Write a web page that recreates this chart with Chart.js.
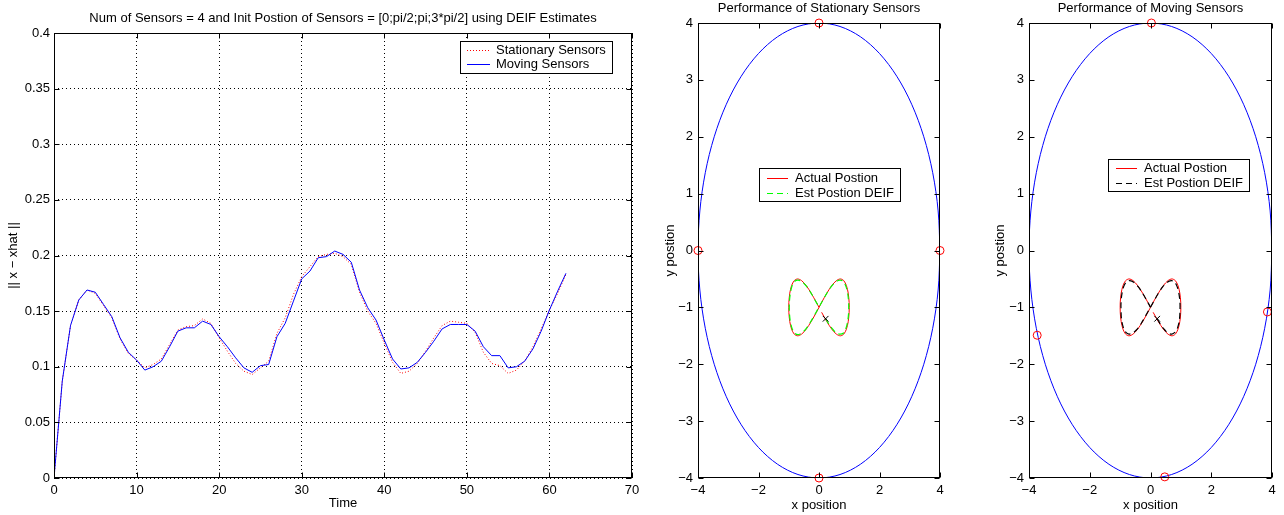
<!DOCTYPE html>
<html>
<head>
<meta charset="utf-8">
<script src="https://cdn.jsdelivr.net/npm/chart.js@4.4.0/dist/chart.umd.min.js"></script>
<style>
  body { margin: 0; background: #fff; width: 1284px; height: 515px; position: relative; overflow: hidden; }
  .panel { position: absolute; top: 0; height: 515px; }
</style>
</head>
<body>
<div class="panel" style="left:0;width:650px"><canvas id="errChart"></canvas></div>
<div class="panel" style="left:655px;width:300px"><canvas id="statChart"></canvas></div>
<div class="panel" style="left:985px;width:299px"><canvas id="moveChart"></canvas></div>
<script>
// ---- data: error over time ----
var timeSteps = [0,1,2,3,4,5,6,7,8,9,10,11,12,13,14,15,16,17,18,19,20,21,22,23,24,25,26,27,28,29,30,
  31,32,33,34,35,36,37,38,39,40,41,42,43,44,45,46,47,48,49,50,51,52,53,54,55,56,57,58,59,60,61,62];
var errStationary = [0,0.087,0.137,0.160,0.169,0.166,0.155,0.144,0.125,0.112,0.106,0.099,0.102,0.107,0.120,0.133,
  0.136,0.137,0.143,0.139,0.126,0.114,0.103,0.096,0.093,0.099,0.105,0.130,0.144,0.165,0.181,0.190,0.199,0.201,
  0.202,0.199,0.192,0.167,0.150,0.139,0.121,0.104,0.094,0.096,0.103,0.114,0.126,0.137,0.141,0.140,0.139,0.131,
  0.113,0.103,0.101,0.094,0.097,0.105,0.118,0.134,0.151,0.166,0.183];
var errMoving = [0,0.087,0.137,0.160,0.169,0.167,0.156,0.145,0.126,0.113,0.106,0.097,0.100,0.105,0.118,0.132,
  0.135,0.135,0.141,0.138,0.127,0.118,0.108,0.099,0.095,0.101,0.102,0.127,0.139,0.159,0.179,0.186,0.198,0.199,
  0.204,0.201,0.194,0.169,0.153,0.142,0.124,0.107,0.098,0.099,0.104,0.113,0.123,0.134,0.138,0.138,0.138,0.132,
  0.118,0.110,0.110,0.099,0.100,0.105,0.116,0.132,0.151,0.168,0.184];
var errXTicks = [0,10,20,30,40,50,60,70];
var errYTicks = [0,0.05,0.1,0.15,0.2,0.25,0.3,0.35,0.4];

// ---- data: sensor ring (radius 4) ----
var ringX = [4,3.939,3.759,3.464,3.064,2.571,2,1.368,0.695,0,-0.695,-1.368,-2,-2.571,-3.064,-3.464,-3.759,-3.939,
  -4,-3.939,-3.759,-3.464,-3.064,-2.571,-2,-1.368,-0.695,0,0.695,1.368,2,2.571,3.064,3.464,3.759,3.939,4];
var ringY = [0,0.695,1.368,2,2.571,3.064,3.464,3.759,3.939,4,3.939,3.759,3.464,3.064,2.571,2,1.368,0.695,
  0,-0.695,-1.368,-2,-2.571,-3.064,-3.464,-3.759,-3.939,-4,-3.939,-3.759,-3.464,-3.064,-2.571,-2,-1.368,-0.695,0];

// ---- data: target path (figure eight) ----
var actualX = [0.087,0.259,0.423,0.574,0.707,0.819,0.906,0.966,0.996,0.996,0.966,0.906,0.819,0.707,0.574,0.423,0.259,0.087,
  -0.087,-0.259,-0.423,-0.574,-0.707,-0.819,-0.906,-0.966,-0.996,-0.996,-0.966,-0.906,-0.819,-0.707,-0.574,-0.423,-0.259,-0.087,0];
var actualY = [-1.087,-1.25,-1.383,-1.47,-1.5,-1.47,-1.383,-1.25,-1.087,-0.913,-0.75,-0.617,-0.53,-0.5,-0.53,-0.617,-0.75,-0.913,
  -1.087,-1.25,-1.383,-1.47,-1.5,-1.47,-1.383,-1.25,-1.087,-0.913,-0.75,-0.617,-0.53,-0.5,-0.53,-0.617,-0.75,-0.913,-1];
var estStatX = [0.22,0.30,0.43,0.57,0.70,0.81,0.89,0.95,0.98,0.98,0.95,0.89,0.80,0.69,0.56,0.41,0.25,0.08,
  -0.09,-0.26,-0.42,-0.57,-0.70,-0.81,-0.89,-0.95,-0.98,-0.98,-0.95,-0.89,-0.80,-0.69,-0.56,-0.41,-0.25,-0.08,0];
var estStatY = [-1.2,-1.27,-1.37,-1.45,-1.47,-1.45,-1.37,-1.24,-1.08,-0.92,-0.76,-0.63,-0.54,-0.52,-0.55,-0.63,-0.76,-0.92,
  -1.08,-1.24,-1.37,-1.45,-1.48,-1.45,-1.37,-1.24,-1.08,-0.92,-0.76,-0.62,-0.54,-0.52,-0.55,-0.63,-0.76,-0.92,-0.99];
var estMoveX = [0.22,0.31,0.44,0.57,0.70,0.80,0.89,0.95,0.97,0.97,0.94,0.88,0.79,0.68,0.55,0.40,0.24,0.07,
  -0.10,-0.27,-0.43,-0.58,-0.71,-0.81,-0.89,-0.95,-0.97,-0.97,-0.94,-0.88,-0.79,-0.68,-0.55,-0.40,-0.24,-0.07,0];
var estMoveY = [-1.2,-1.28,-1.38,-1.45,-1.47,-1.44,-1.36,-1.23,-1.07,-0.92,-0.77,-0.64,-0.55,-0.53,-0.56,-0.64,-0.77,-0.93,
  -1.09,-1.25,-1.38,-1.45,-1.47,-1.44,-1.36,-1.23,-1.07,-0.91,-0.76,-0.63,-0.55,-0.53,-0.56,-0.64,-0.77,-0.93,-1];
var estStart = [0.22, -1.2];

// ---- data: sensor positions ----
var statSensorX = [0,-4,4,0];
var statSensorY = [4,0,0,-4];
var moveSensorX = [0.03,-3.73,3.85,0.47];
var moveSensorY = [4,-1.49,-1.08,-3.98];
var posXTicks = [-4,-2,0,2,4];
var posYTicks = [-4,-3,-2,-1,0,1,2,3,4];

Chart.defaults.font.family = "'Liberation Sans', Arial, sans-serif";
Chart.defaults.font.size = 13;
Chart.defaults.color = '#000';

function pts(xs, ys) { return xs.map(function (v, i) { return {x: v, y: ys[i]}; }); }
function minusLabel(v) { return v < 0 ? '\u2212' + Math.abs(v) : String(v); }
function setTicks(list) { return function (scale) { scale.ticks = list.map(function (v) { return {value: v}; }); }; }

// inward tick marks on all four sides + black box
var innerTicks = {
  id: 'innerTicks',
  afterDatasetsDraw: function (chart) {
    var ctx = chart.ctx, a = chart.chartArea, sx = chart.scales.x, sy = chart.scales.y;
    var L = Math.round(a.left) + 0.5, R = Math.round(a.right) - 0.5, T = Math.round(a.top) + 0.5, B = Math.round(a.bottom) - 0.5;
    ctx.save();
    ctx.strokeStyle = '#000'; ctx.lineWidth = 1; ctx.setLineDash([]);
    ctx.beginPath();
    sx.ticks.forEach(function (t) {
      var p = Math.round(sx.getPixelForValue(t.value)) + 0.5;
      ctx.moveTo(p, T); ctx.lineTo(p, T + 5);
      ctx.moveTo(p, B); ctx.lineTo(p, B - 5);
    });
    sy.ticks.forEach(function (t) {
      var p = Math.round(sy.getPixelForValue(t.value)) + 0.5;
      ctx.moveTo(L, p); ctx.lineTo(L + 5, p);
      ctx.moveTo(R, p); ctx.lineTo(R - 5, p);
    });
    ctx.stroke();
    ctx.strokeRect(L, T, R - L, B - T);
    ctx.restore();
  }
};

// matlab style legend box inside the axes
var boxLegend = {
  id: 'boxLegend',
  afterDraw: function (chart, args, o) {
    if (!o || !o.items) return;
    var ctx = chart.ctx;
    ctx.save();
    ctx.fillStyle = '#fff';
    ctx.fillRect(o.x, o.y, o.w, o.h);
    ctx.strokeStyle = '#000'; ctx.lineWidth = 1; ctx.setLineDash([]);
    ctx.strokeRect(o.x + 0.5, o.y + 0.5, o.w, o.h);
    ctx.font = "13px 'Liberation Sans', Arial, sans-serif";
    ctx.textBaseline = 'middle';
    o.items.forEach(function (idx, i) {
      var ds = chart.data.datasets[idx];
      var ly = Math.round(o.y + o.rowTop + i * o.rowGap) + 0.5;
      ctx.strokeStyle = ds.borderColor; ctx.lineWidth = ds.borderWidth || 1;
      ctx.setLineDash(ds.borderDash || []);
      ctx.beginPath(); ctx.moveTo(o.x + o.lineX0, ly); ctx.lineTo(o.x + o.lineX1, ly); ctx.stroke();
      ctx.setLineDash([]);
      ctx.fillStyle = '#000';
      ctx.fillText(ds.label, o.x + o.textX, ly);
    });
    ctx.restore();
  }
};

// ---------- left: error vs time ----------
new Chart(document.getElementById('errChart'), {
  type: 'line',
  data: {
    datasets: [
      {label: 'Stationary Sensors', data: pts(timeSteps, errStationary), borderColor: '#ff0000', borderWidth: 1,
        borderDash: [1, 2], pointRadius: 0, tension: 0, order: 2},
      {label: 'Moving Sensors', data: pts(timeSteps, errMoving), borderColor: '#0000ff', borderWidth: 1,
        pointRadius: 0, tension: 0, order: 1}
    ]
  },
  options: {
    animation: false, responsive: true, maintainAspectRatio: false,
    layout: {padding: {left: 0, right: 18, top: 0, bottom: 0}},
    plugins: {
      legend: {display: false}, tooltip: {enabled: false},
      title: {display: true, fullSize: false,
        text: 'Num of Sensors = 4 and Init Postion of Sensors = [0;pi/2;pi;3*pi/2] using DEIF Estimates',
        font: {size: 13, weight: 'normal'}, color: '#000', padding: {top: 10.2, bottom: 7.2}},
      boxLegend: {x: 460, y: 41, w: 152, h: 32, rowTop: 9, rowGap: 14, lineX0: 7, lineX1: 30, textX: 36, items: [0, 1]}
    },
    scales: {
      x: {type: 'linear', min: 0, max: 70,
        afterBuildTicks: setTicks(errXTicks), afterFit: function (s) { s.height = 37; },
        grid: {color: '#000', lineWidth: 1, drawTicks: false}, border: {display: false, dash: [1, 3]},
        ticks: {padding: 5, maxRotation: 0},
        title: {display: true, text: 'Time', padding: {top: 0, bottom: 4.2}}},
      y: {type: 'linear', min: 0, max: 0.4,
        afterBuildTicks: setTicks(errYTicks), afterFit: function (s) { s.width = 54; },
        grid: {color: '#000', lineWidth: 1, drawTicks: false}, border: {display: false, dash: [1, 3]},
        ticks: {padding: 4, callback: function (v) { return String(v); }},
        title: {display: true, text: '|| x \u2212 xhat ||', padding: {top: 5.2, bottom: 0}}}
    }
  },
  plugins: [innerTicks, boxLegend]
});

// ---------- position panels ----------
function positionChart(id, title, sensX, sensY, estX, estY, estColor, estDash, yAxisWidth, rightPad, legendBox) {
  return new Chart(document.getElementById(id), {
    type: 'line',
    data: {
      datasets: [
        {label: 'Actual Postion', data: pts(actualX, actualY), borderColor: '#ff0000', borderWidth: 1,
          pointRadius: 0, tension: 0.3, order: 3},
        {label: 'Est Postion DEIF', data: pts(estX, estY), borderColor: estColor, borderWidth: 1.2,
          borderDash: estDash, pointRadius: 0, tension: 0.3, order: 2},
        {label: 'ring', data: pts(ringX, ringY), borderColor: '#0000ff', borderWidth: 1,
          pointRadius: 0, tension: 0.33, order: 5},
        {label: 'sensors', data: pts(sensX, sensY), showLine: false, pointStyle: 'circle', pointRadius: 4,
          pointBorderColor: '#ff0000', pointBackgroundColor: 'rgba(0,0,0,0)', pointBorderWidth: 1,
          borderColor: '#ff0000', clip: false, order: 1},
        {label: 'start', data: [{x: estStart[0], y: estStart[1]}], showLine: false, pointStyle: 'crossRot', pointRadius: 4,
          pointBorderColor: '#000', pointBorderWidth: 1, borderColor: '#000', order: 0}
      ]
    },
    options: {
      animation: false, responsive: true, maintainAspectRatio: false,
      layout: {padding: {left: 0, right: rightPad, top: 0, bottom: 0}},
      plugins: {
        legend: {display: false}, tooltip: {enabled: false},
        title: {display: true, fullSize: false, text: title,
          font: {size: 13, weight: 'normal'}, color: '#000', padding: {top: 0.2, bottom: 7.2}},
        boxLegend: legendBox
      },
      scales: {
        x: {type: 'linear', min: -4, max: 4,
          afterBuildTicks: setTicks(posXTicks), afterFit: function (s) { s.height = 37; },
          grid: {display: false, drawTicks: false}, border: {display: false},
          ticks: {padding: 5, maxRotation: 0, callback: minusLabel},
          title: {display: true, text: 'x position', padding: {top: 0, bottom: 2.2}}},
        y: {type: 'linear', min: -4, max: 4,
          afterBuildTicks: setTicks(posYTicks), afterFit: function (s) { s.width = yAxisWidth; },
          grid: {display: false, drawTicks: false}, border: {display: false},
          ticks: {padding: 5, callback: minusLabel},
          title: {display: true, text: 'y postion', padding: {top: 7.2, bottom: 0}}}
      }
    },
    plugins: [innerTicks, boxLegend]
  });
}

positionChart('statChart', 'Performance of Stationary Sensors', statSensorX, statSensorY, estStatX, estStatY,
  '#00ff00', [6, 4], 43, 15,
  {x: 104, y: 168, w: 141, h: 33, rowTop: 10, rowGap: 15, lineX0: 8, lineX1: 29, textX: 36, items: [0, 1]});

positionChart('moveChart', 'Performance of Moving Sensors', moveSensorX, moveSensorY, estMoveX, estMoveY,
  '#000000', [6, 4], 44, 12,
  {x: 123, y: 159, w: 141, h: 32, rowTop: 9, rowGap: 15, lineX0: 8, lineX1: 29, textX: 36, items: [0, 1]});
</script>
</body>
</html>
